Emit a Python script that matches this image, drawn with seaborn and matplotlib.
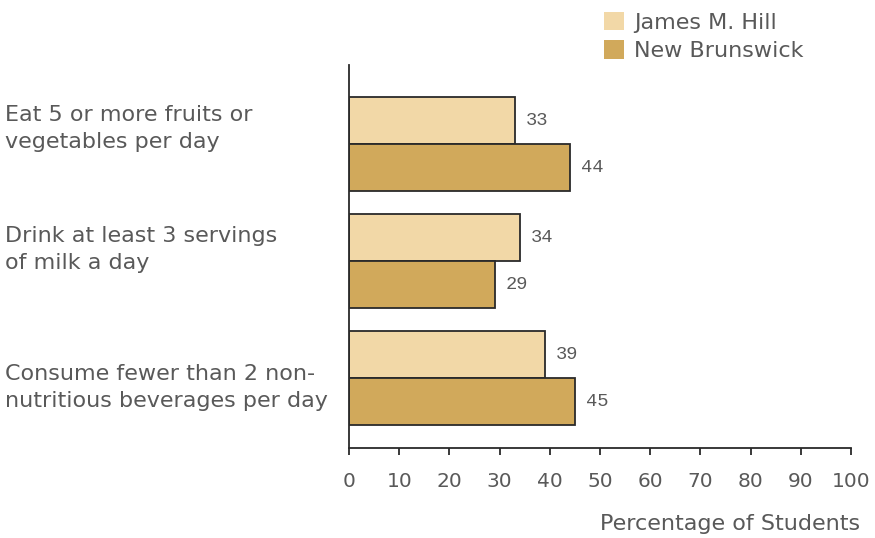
import matplotlib
matplotlib.use("Agg")
import matplotlib.pyplot as plt
from matplotlib.transforms import blended_transform_factory
from matplotlib.font_manager import FontProperties
import seaborn as sns
import pandas as pd

categories = [
    "Eat 5 or more fruits or\nvegetables per day",
    "Drink at least 3 servings\nof milk a day",
    "Consume fewer than 2 non-\nnutritious beverages per day",
]
series_names = ["James M. Hill", "New Brunswick"]
james_hill = [33, 34, 39]
new_brunswick = [44, 29, 45]
x_ticks = [0, 10, 20, 30, 40, 50, 60, 70, 80, 90, 100]
colors = ["#F2D8A7", "#D1A95B"]

rows = []
for c, a, b in zip(categories, james_hill, new_brunswick):
    rows.append({"cat": c, "series": series_names[0], "val": a})
    rows.append({"cat": c, "series": series_names[1], "val": b})
df = pd.DataFrame(rows)

sns.set_theme(style="white")
plt.rcParams["font.family"] = ["DejaVu Sans"]

TXT = "#595959"
fig = plt.figure(figsize=(8.75, 5.38), dpi=100)
ax = fig.add_axes([349 / 875, 1 - 448 / 538, (851 - 349) / 875, (448 - 65) / 538])

sns.barplot(data=df, y="cat", x="val", hue="series", hue_order=series_names,
            order=categories, palette=colors, saturation=1, orient="h", width=0.8,
            edgecolor="#2a2a2a", linewidth=1.3, ax=ax, legend=True)

mono = FontProperties(family="Liberation Mono", size=13.5)
for cont in ax.containers:
    texts = ax.bar_label(cont, padding=8, color=TXT, fontproperties=mono)
    for t in texts:
        t.set_va("center")

ax.set_xlim(0, 100)
ax.set_ylim(2.6, -0.675)
ax.set_xticks(x_ticks)
ax.set_xticklabels([str(t) for t in x_ticks], fontsize=14.5, color=TXT)
ax.tick_params(axis="x", direction="out", length=5, width=1.3, color="#2a2a2a",
               pad=12, bottom=True)
ax.set_yticks(range(len(categories)))
ax.set_yticklabels([])
ax.tick_params(axis="y", length=0)

label_offsets = [-0.13, -0.10, 0.08]
trans = blended_transform_factory(fig.transFigure, ax.transData)
for i, (c, off) in enumerate(zip(categories, label_offsets)):
    ax.text(5 / 875, i + off, c, transform=trans, ha="left", va="center",
            fontsize=16, color=TXT, linespacing=1.45, clip_on=False)

ax.set_ylabel("")
ax.set_xlabel("")
for s in ["top", "right"]:
    ax.spines[s].set_visible(False)
for s in ["left", "bottom"]:
    ax.spines[s].set_color("#2a2a2a")
    ax.spines[s].set_linewidth(1.3)

fig.text(860 / 875, 1 - 524 / 538, "Percentage of Students", ha="right", va="center",
         fontsize=16, color=TXT)

handles, labels = ax.get_legend_handles_labels()
ax.get_legend().remove()
for h in handles:
    h.set_edgecolor("none")
fig.legend(handles, labels, loc="upper left", bbox_to_anchor=(586 / 875, 1 + 6 / 538),
           frameon=False, fontsize=16, labelcolor=TXT, handlelength=0.9,
           handleheight=0.9, handletextpad=0.45, labelspacing=0.35, borderpad=0.3)

fig.savefig("out.png", dpi=100)
